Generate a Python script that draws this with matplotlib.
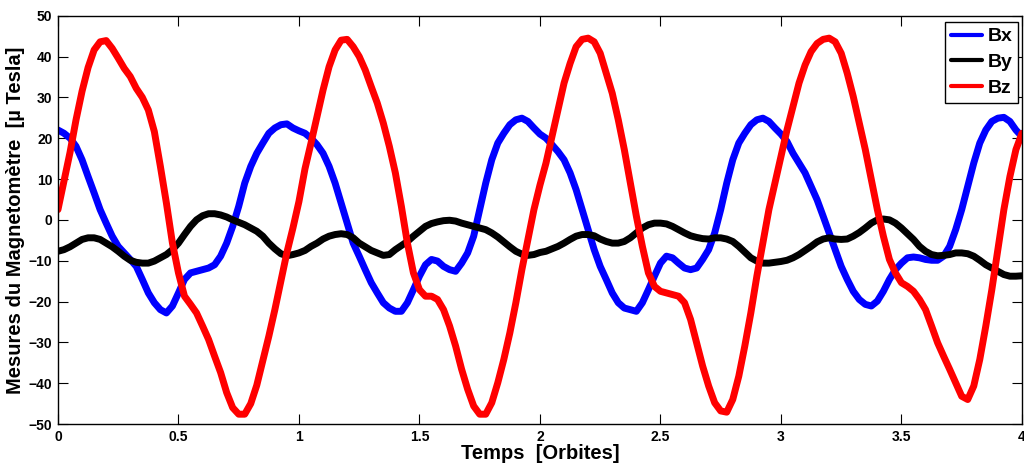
import numpy as np
import matplotlib
matplotlib.use("Agg")
from matplotlib import pyplot as plt

# Magnetometer readings, one sample every 0.025 orbit (0 -> 4 orbits)
temps = np.linspace(0, 4, 161)

bx = [22.0, 21.2, 20.0, 18.0, 14.7, 10.6, 6.6, 2.5, -0.8, -4.0,
      -6.5, -8.1, -9.7, -11.4, -14.6, -17.9, -20.3, -22.0, -22.8, -21.1,
      -17.9, -14.6, -13.0, -12.6, -12.2, -11.8, -11.0, -8.9, -5.7, -1.6,
      3.3, 9.0, 13.1, 16.3, 18.8, 21.2, 22.5, 23.3, 23.5, 22.5,
      21.8, 21.2, 20.0, 18.4, 16.3, 13.1, 9.0, 4.1, -0.8, -5.7,
      -8.9, -12.2, -15.4, -17.9, -20.3, -21.6, -22.4, -22.4, -20.3, -17.1,
      -13.8, -11.0, -9.7, -10.1, -11.4, -12.2, -12.6, -10.6, -8.1, -4.0,
      2.5, 9.0, 14.7, 18.8, 21.2, 23.3, 24.5, 24.9, 24.1, 22.5,
      21.0, 20.0, 18.4, 16.7, 14.7, 11.5, 7.4, 2.5, -2.4, -7.3,
      -11.4, -14.6, -17.9, -20.3, -21.6, -22.0, -22.4, -20.3, -17.1, -13.8,
      -10.6, -8.9, -9.3, -10.6, -11.8, -12.2, -11.8, -9.7, -7.3, -3.2,
      2.5, 9.0, 14.7, 18.8, 21.2, 23.3, 24.5, 24.9, 24.1, 22.5,
      21.0, 19.2, 16.3, 13.9, 11.5, 8.2, 4.9, 0.9, -3.2, -7.3,
      -11.4, -14.6, -17.5, -19.5, -20.7, -21.1, -19.9, -17.5, -14.6, -12.2,
      -10.6, -9.3, -9.1, -9.3, -9.7, -9.9, -9.9, -8.9, -6.5, -2.4,
      2.5, 8.2, 13.9, 18.8, 22.0, 24.1, 24.9, 25.1, 24.1, 22.0,
      20.4]

by = [-7.7, -7.3, -6.6, -5.7, -4.8, -4.4, -4.4, -4.8, -5.7, -6.6,
      -7.7, -8.9, -9.9, -10.4, -10.6, -10.6, -10.1, -9.3, -8.5, -7.3,
      -5.7, -3.6, -1.6, 0.0, 1.0, 1.5, 1.5, 1.2, 0.7, 0.0,
      -0.6, -1.2, -2.0, -2.8, -4.0, -5.7, -7.1, -8.3, -8.8, -8.5,
      -8.1, -7.5, -6.5, -5.7, -4.7, -4.0, -3.6, -3.4, -3.6, -4.4,
      -5.7, -6.6, -7.5, -8.1, -8.7, -8.5, -7.3, -6.3, -5.3, -4.0,
      -2.8, -1.6, -0.9, -0.5, -0.2, -0.1, -0.3, -0.8, -1.2, -1.6,
      -2.0, -2.4, -3.2, -4.2, -5.4, -6.6, -7.7, -8.4, -8.7, -8.5,
      -8.0, -7.7, -7.1, -6.5, -5.7, -4.8, -4.0, -3.6, -3.6, -3.9,
      -4.7, -5.3, -5.7, -5.7, -5.3, -4.4, -3.2, -2.0, -1.2, -0.8,
      -0.8, -1.0, -1.6, -2.4, -3.2, -3.9, -4.3, -4.6, -4.7, -4.4,
      -4.4, -4.7, -5.3, -6.5, -7.9, -9.3, -10.1, -10.6, -10.6, -10.4,
      -10.2, -9.9, -9.3, -8.5, -7.5, -6.5, -5.4, -4.7, -4.4, -4.7,
      -4.8, -4.7, -4.0, -3.1, -2.0, -0.8, 0.0, 0.2, 0.0, -0.8,
      -2.0, -3.4, -4.8, -6.5, -7.7, -8.5, -8.8, -8.7, -8.5, -8.1,
      -8.1, -8.3, -8.9, -9.9, -11.0, -11.8, -12.6, -13.4, -13.8, -13.8,
      -13.7]

bz = [2.5, 9.5, 16.5, 24.5, 31.5, 37.3, 41.6, 43.6, 43.9, 42.0,
      39.6, 37.1, 35.1, 32.2, 30.0, 26.9, 21.6, 13.1, 4.1, -5.7,
      -13.0, -18.7, -20.7, -22.8, -26.0, -29.3, -33.4, -37.4, -42.3, -46.0,
      -47.6, -47.6, -45.0, -40.5, -34.5, -28.5, -22.0, -15.0, -8.0, -2.0,
      4.5, 12.5, 18.8, 25.3, 31.8, 37.5, 41.6, 44.0, 44.2, 42.4,
      40.0, 36.7, 32.6, 28.6, 23.7, 18.0, 11.5, 3.3, -5.7, -13.0,
      -17.1, -18.7, -18.7, -19.5, -22.0, -26.0, -30.9, -36.6, -41.5, -45.6,
      -47.6, -47.6, -44.8, -39.9, -34.2, -27.7, -20.3, -12.2, -4.8, 2.5,
      8.5, 13.9, 20.4, 26.9, 33.5, 38.3, 42.4, 44.2, 44.5, 43.6,
      40.8, 35.9, 31.0, 24.5, 17.2, 9.0, 0.9, -6.5, -13.0, -16.3,
      -17.5, -17.9, -18.3, -18.7, -20.3, -24.4, -30.1, -35.8, -40.7, -44.8,
      -46.8, -47.1, -44.0, -38.3, -30.9, -22.8, -13.8, -5.7, 2.5, 9.0,
      15.5, 22.0, 27.8, 33.5, 37.9, 41.2, 43.2, 44.2, 44.5, 43.6,
      40.8, 35.9, 30.2, 23.7, 17.2, 9.8, 2.5, -4.0, -9.7, -13.0,
      -15.4, -16.3, -17.5, -19.5, -22.0, -26.0, -30.1, -33.4, -36.6, -39.9,
      -43.2, -44.0, -40.7, -34.2, -26.0, -17.1, -7.3, 2.5, 10.6, 17.2,
      21.2]

xticks = [0, 0.5, 1, 1.5, 2, 2.5, 3, 3.5, 4]
xtick_labels = ["0", "0.5", "1", "1.5", "2", "2.5", "3", "3.5", "4"]
yticks = [-50, -40, -30, -20, -10, 0, 10, 20, 30, 40, 50]

plt.rcParams["font.family"] = ["Liberation Sans", "DejaVu Sans"]
plt.rcParams["font.weight"] = "bold"

fig = plt.figure(figsize=(10.24, 4.68), dpi=100)
ax = fig.add_axes([0.0566, 0.094, 0.9414, 0.8725])

line_kw = dict(linewidth=5, solid_joinstyle="round", solid_capstyle="round")
ax.plot(temps, bx, color="#0000ff", label="Bx", **line_kw)
ax.plot(temps, by, color="black", label="By", **line_kw)
ax.plot(temps, bz, color="#ff0000", label="Bz", **line_kw)

ax.set_xlim(0, 4)
ax.set_ylim(-50, 50)
ax.set_xticks(xticks)
ax.set_xticklabels(xtick_labels)
ax.set_yticks(yticks)
ax.tick_params(direction="in", length=7, width=0.8, top=True, right=True,
               labelsize=10, pad=4)
for lbl in ax.get_xticklabels() + ax.get_yticklabels():
    lbl.set_fontweight("bold")
for sp in ax.spines.values():
    sp.set_linewidth(1.0)

ax.set_xlabel("Temps  [Orbites]", fontsize=14.5, fontweight="bold", labelpad=0)
ax.set_ylabel("Mesures du Magnetomètre  [µ Tesla]", fontsize=14.5,
              fontweight="bold", labelpad=3)

leg = ax.legend(loc="upper right", bbox_to_anchor=(1018 / 1024, 1 - 22 / 468),
                bbox_transform=fig.transFigure, borderaxespad=0,
                fontsize=14, handlelength=1.6, handletextpad=0.25,
                borderpad=0.3, labelspacing=0.42,
                fancybox=False, framealpha=1, edgecolor="black")
leg.get_frame().set_linewidth(1.0)
for line in leg.get_lines():
    line.set_linewidth(3)
for t in leg.get_texts():
    t.set_fontweight("bold")

fig.savefig("out.png", dpi=100, facecolor="white")
